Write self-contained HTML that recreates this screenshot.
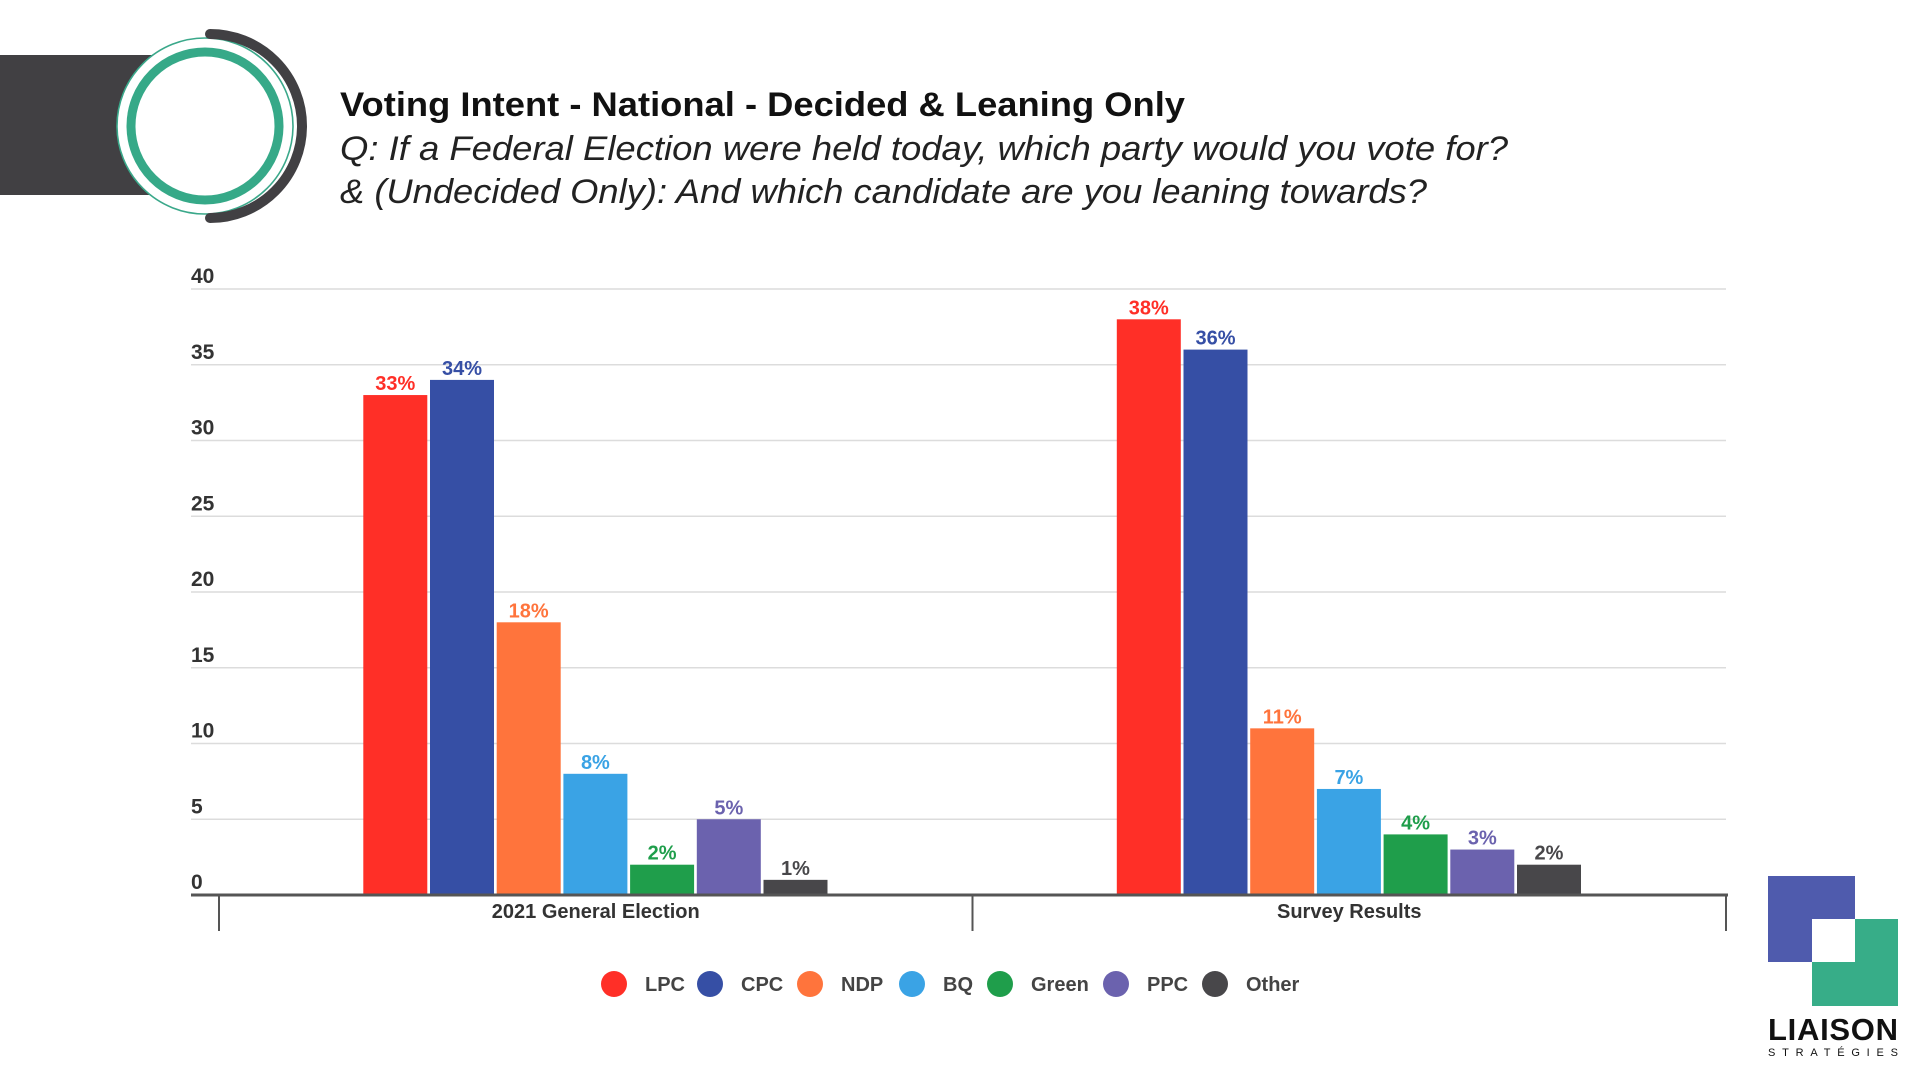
<!DOCTYPE html>
<html><head><meta charset="utf-8"><style>
html,body{margin:0;padding:0;background:#fff;width:1920px;height:1080px;overflow:hidden}
svg{display:block}
text{font-family:"Liberation Sans",sans-serif}
</style></head><body>
<svg id="chart" width="1920" height="1080" viewBox="0 0 1920 1080" xmlns="http://www.w3.org/2000/svg">
  <g>
    <rect x="0" y="55" width="205" height="140" fill="#414043"/>
    <circle cx="205" cy="126" r="88" fill="#fff"/>
    <circle cx="205" cy="126" r="88" fill="none" stroke="#3aa88a" stroke-width="1.6"/>
    <circle cx="205" cy="126" r="74" fill="none" stroke="#36a988" stroke-width="9"/>
    <path d="M210 34 A92 92 0 0 1 210 218" fill="none" stroke="#414043" stroke-width="10" stroke-linecap="round"/>
  </g>
  <text x="340" y="116" font-size="34" font-weight="bold" fill="#111" textLength="845" lengthAdjust="spacingAndGlyphs">Voting Intent - National - Decided &amp; Leaning Only</text>
  <text x="340" y="160" font-size="34" font-style="italic" fill="#222" textLength="1168" lengthAdjust="spacingAndGlyphs">Q: If a Federal Election were held today, which party would you vote for?</text>
  <text x="340" y="203" font-size="34" font-style="italic" fill="#222" textLength="1087" lengthAdjust="spacingAndGlyphs">&amp; (Undecided Only): And which candidate are you leaning towards?</text>
  <g id="grid"></g>
  <g id="bars"></g>
  <g id="axis"></g>
  <g id="legend"></g>
  <g>
    <rect x="1768" y="876" width="87" height="86" fill="#4f5bad"/>
    <rect x="1812" y="919" width="86" height="87" fill="#37ad88"/>
    <rect x="1812" y="919" width="43" height="43" fill="#fff"/>
    <text x="1768" y="1040" font-size="31" font-weight="bold" fill="#111" textLength="130" lengthAdjust="spacing">LIAISON</text>
    <text x="1768" y="1056" font-size="11" fill="#111" textLength="130" lengthAdjust="spacing">STRATÉGIES</text>
  </g>
</svg>
<script>
const categories = ["2021 General Election", "Survey Results"];
const parties = ["LPC", "CPC", "NDP", "BQ", "Green", "PPC", "Other"];
const colors = ["#ff2f27", "#364fa5", "#ff743c", "#3aa3e5", "#1f9e4b", "#6b62ae", "#48474a"];
const election2021 = [33, 34, 18, 8, 2, 5, 1];
const survey = [38, 36, 11, 7, 4, 3, 2];
const yTicks = [0, 5, 10, 15, 20, 25, 30, 35, 40];

const NS = "http://www.w3.org/2000/svg";
const X0 = 219, X1 = 1726, Y0 = 895, YTOP = 289, YMAX = 40;
const series = [election2021, survey];
const y = v => Y0 - (v / YMAX) * (Y0 - YTOP);
const groupW = (X1 - X0) / categories.length;
const barStep = 66.7, barW = 64;
const barX = (g, i) => X0 + groupW * g + groupW / 2 - (parties.length * barStep) / 2 + i * barStep + 1;
function mk(tag, attrs, parent) { const e = document.createElementNS(NS, tag); for (const k in attrs) e.setAttribute(k, attrs[k]); parent.appendChild(e); return e; }

const grid = document.getElementById('grid');
yTicks.forEach(t => {
  if (t > 0) {
    const l = mk('line', {x1: 191, x2: 1726, y1: y(t), y2: y(t), stroke: '#dcdcdc', 'stroke-width': 1.5}, grid);
    
    
  }
  const tx = mk('text', {x: 191, y: y(t) - 6, 'font-size': 21, 'font-weight': 'bold', fill: '#333'}, grid);
  tx.textContent = t;
  
  
});

const bars = document.getElementById('bars');
series.forEach((vals, g) => {
  vals.forEach((v, i) => {
    const r = mk('rect', {x: barX(g, i), y: y(v), width: barW, height: Y0 - y(v), fill: colors[i]}, bars);
    
    
    const t = mk('text', {x: barX(g, i) + barW / 2, y: y(v) - 5, 'font-size': 20, 'font-weight': 'bold', fill: colors[i], 'text-anchor': 'middle'}, bars);
    t.textContent = v + '%';
    
    
  });
});

const axis = document.getElementById('axis');
const al = mk('line', {x1: 191, x2: 1728, y1: Y0, y2: Y0, stroke: '#555', 'stroke-width': 3}, axis);


for (let g = 0; g <= categories.length; g++) {
  const tk = mk('line', {x1: X0 + groupW * g, x2: X0 + groupW * g, y1: Y0, y2: 931, stroke: '#555', 'stroke-width': 2}, axis);
  
  
}
categories.forEach((c, g) => {
  const t = mk('text', {x: X0 + groupW * (g + 0.5), y: 918, 'font-size': 20, 'font-weight': 'bold', fill: '#333', 'text-anchor': 'middle'}, axis);
  t.textContent = c;
  
  
});

const legend = document.getElementById('legend');
const lx = [614, 710, 810, 912, 1000, 1116, 1215];
parties.forEach((p, i) => {
  const c = mk('circle', {cx: lx[i], cy: 984, r: 13, fill: colors[i]}, legend);
  
  
  const t = mk('text', {x: lx[i] + 31, y: 991, 'font-size': 20, 'font-weight': 'bold', fill: '#444'}, legend);
  t.textContent = p;
  
  
});
</script>
</body></html>
